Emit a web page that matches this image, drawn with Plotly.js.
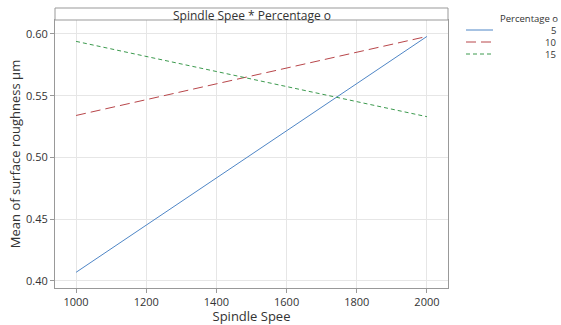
<!DOCTYPE html>
<html><head><meta charset="utf-8">
<script src="https://cdn.plot.ly/plotly-3.0.1.min.js"></script>
<style>html,body{margin:0;padding:0;background:#fff}#c{width:561px;height:325px}</style>
</head><body><div id="c"></div>
<script>
const speeds = [1000, 2000];
const seriesNames = ["5", "10", "15"];
const mean5 = [0.407, 0.598];
const mean10 = [0.534, 0.598];
const mean15 = [0.594, 0.533];
const xTicks = [1000, 1200, 1400, 1600, 1800, 2000];
const yTicks = [0.40, 0.45, 0.50, 0.55, 0.60];
const panelTitle = "Spindle Spee * Percentage o";
const legendTitle = "Percentage o";

const colors = ["#4f86c6", "#b8464a", "#3c9a4e"];
const dashes = ["solid", "10px,5px", "4px,3px"];
const values = [mean5, mean10, mean15];

const traces = values.map((v, i) => ({
  x: speeds, y: v, type: "scatter", mode: "lines", name: seriesNames[i],
  line: {color: colors[i], width: 1, dash: dashes[i]}, showlegend: false
}));

const font = {family: "Open Sans, Noto Sans, sans-serif", color: "#333"};
const shapes = [
  {type: "rect", xref: "paper", yref: "paper", x0: 0, x1: 1, y0: 1, y1: 1 + 12/268,
   line: {color: "#999", width: 1}, fillcolor: "#fff"}
];
const annotations = [
  {xref: "paper", yref: "paper", x: 0.5, y: 1 + 5/268, text: panelTitle, showarrow: false,
   xanchor: "center", yanchor: "middle", font: Object.assign({size: 12}, font)},
  {xref: "paper", yref: "paper", x: 1 + 50/393, y: 1 + 2/268, text: legendTitle, showarrow: false,
   xanchor: "left", yanchor: "middle", font: Object.assign({size: 9.5}, font)}
];
seriesNames.forEach((n, i) => {
  const yp = 1 - (10 + 12*i)/268;
  shapes.push({type: "line", xref: "paper", yref: "paper", x0: 1 + 18/393, x1: 1 + 45/393,
    y0: yp, y1: yp, line: {color: colors[i], width: 1, dash: dashes[i]}});
  annotations.push({xref: "paper", yref: "paper", x: 1 + 110/393, y: yp, text: n, showarrow: false,
    xanchor: "right", yanchor: "middle", font: Object.assign({size: 9.5}, font)});
});

const layout = {
  width: 561, height: 325,
  margin: {l: 55, r: 113, t: 20, b: 37},
  paper_bgcolor: "#fff", plot_bgcolor: "#fff",
  font: font,
  xaxis: {range: [940, 2060], tickvals: xTicks, ticktext: xTicks.map(String),
    showline: true, mirror: true, linecolor: "#999", linewidth: 1,
    ticks: "outside", ticklen: 4, tickcolor: "#999",
    showgrid: true, gridcolor: "#e6e6e6", zeroline: false,
    tickfont: Object.assign({size: 11}, font),
    title: {text: "Spindle Spee", font: Object.assign({size: 13}, font), standoff: 3}},
  yaxis: {range: [0.3943, 0.6113], tickvals: yTicks, ticktext: yTicks.map(v => v.toFixed(2)),
    showline: true, mirror: true, linecolor: "#999", linewidth: 1,
    ticks: "outside", ticklen: 4, tickcolor: "#999",
    showgrid: true, gridcolor: "#e6e6e6", zeroline: false,
    tickfont: Object.assign({size: 11}, font),
    title: {text: "Mean of surface roughness µm", font: Object.assign({size: 13}, font), standoff: 2}},
  shapes: shapes, annotations: annotations
};
Plotly.newPlot("c", traces, layout, {displayModeBar: false, staticPlot: true});
</script></body></html>
